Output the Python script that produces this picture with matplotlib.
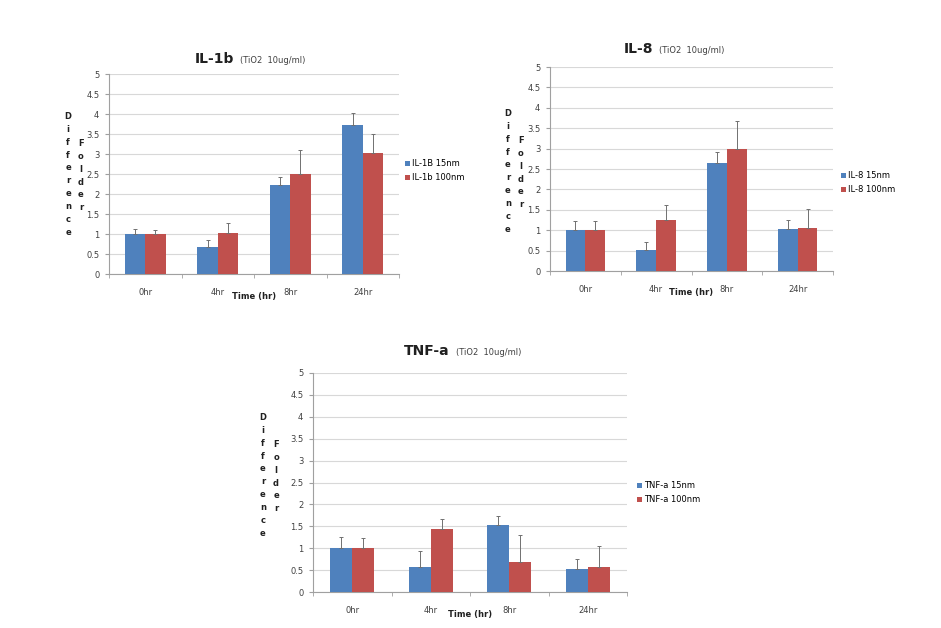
import numpy as np
import matplotlib
matplotlib.use("Agg")
import matplotlib.pyplot as plt

# data
times = ["0hr", "4hr", "8hr", "24hr"]

il1b_15 = [1.0, 0.67, 2.22, 3.72]
il1b_15_err = [0.13, 0.18, 0.20, 0.31]
il1b_100 = [1.0, 1.03, 2.50, 3.03]
il1b_100_err = [0.10, 0.25, 0.60, 0.47]

il8_15 = [1.0, 0.52, 2.65, 1.03]
il8_15_err = [0.22, 0.20, 0.27, 0.22]
il8_100 = [1.0, 1.25, 3.00, 1.06]
il8_100_err = [0.22, 0.37, 0.67, 0.46]

tnf_15 = [1.0, 0.56, 1.54, 0.52]
tnf_15_err = [0.26, 0.38, 0.20, 0.24]
tnf_100 = [1.0, 1.44, 0.68, 0.57]
tnf_100_err = [0.24, 0.22, 0.63, 0.48]

W, H = 941, 628
BLUE = "#4F81BD"
RED = "#C0504D"
TXT = "#404040"

plt.rcParams['font.family'] = ['DejaVu Sans']

fig = plt.figure(figsize=(W / 100, H / 100), dpi=100)


def fx(x):
    return x / W


def fy(y):
    return 1 - y / H


def panel(left, right, top5, bot0, s1, e1, s2, e2, labels, title, sub,
          title_x, title_y, ylab_x, ylab_y, leg_x, leg_y):
    ax = fig.add_axes([fx(left), fy(bot0), fx(right - left), (bot0 - top5) / H])
    x = np.arange(len(times))
    w = 0.28
    ax.bar(x - w / 2, s1, w, color=BLUE, label=labels[0], zorder=3)
    ax.bar(x + w / 2, s2, w, color=RED, label=labels[1], zorder=3)
    ax.errorbar(x - w / 2, s1, yerr=[np.zeros(4), e1], fmt="none",
                ecolor="#707070", elinewidth=0.7, capsize=1.5, capthick=0.7, zorder=4)
    ax.errorbar(x + w / 2, s2, yerr=[np.zeros(4), e2], fmt="none",
                ecolor="#707070", elinewidth=0.7, capsize=1.5, capthick=0.7, zorder=4)
    ax.set_xlim(-0.5, 3.5)
    ax.set_ylim(0, 5)
    ax.set_yticks(np.arange(0, 5.01, 0.5))
    ax.set_yticklabels(["0", "0.5", "1", "1.5", "2", "2.5", "3", "3.5", "4", "4.5", "5"])
    ax.set_xticks(x)
    ax.set_xticklabels(times)
    ax.set_xticks([-0.5, 0.5, 1.5, 2.5, 3.5], minor=True)
    ax.tick_params(axis="x", which="major", length=0, labelsize=6, colors=TXT, pad=10)
    ax.tick_params(axis="x", which="minor", length=3, color="#a0a0a0")
    ax.tick_params(axis="y", length=3, color="#a0a0a0", labelsize=6, colors=TXT, pad=4)
    ax.yaxis.grid(True, color="#d8d8d8", linewidth=0.8, zorder=0)
    for sp in ["top", "right"]:
        ax.spines[sp].set_visible(False)
    for sp in ["left", "bottom"]:
        ax.spines[sp].set_color("#a0a0a0")
        ax.spines[sp].set_linewidth(0.8)

    # title: bold name + small condition
    fig.text(fx(title_x), fy(title_y), title, fontsize=10, fontweight="bold",
             ha="right", va="baseline", color="#202020")
    fig.text(fx(title_x + 6), fy(title_y), sub, fontsize=6, ha="left",
             va="baseline", color=TXT)

    # stacked y label letters
    fig.text(fx(ylab_x), fy(ylab_y), "\n".join("Difference"), fontsize=6,
             fontweight="bold", ha="center", va="top", linespacing=1.55, color="#202020")
    fig.text(fx(ylab_x + 13), fy(ylab_y + 27), "\n".join("Folder"), fontsize=6,
             fontweight="bold", ha="center", va="top", linespacing=1.55, color="#202020")

    fig.text(fx((left + right) / 2), fy(bot0 + 22), "Time (hr)", fontsize=6,
             fontweight="bold", ha="center", va="center", color="#202020")

    ax.legend(loc="center left", bbox_to_anchor=(fx(leg_x), fy(leg_y)),
              bbox_transform=fig.transFigure, frameon=False, fontsize=6,
              handlelength=0.6, handleheight=0.6, handletextpad=0.3,
              labelspacing=0.6, borderaxespad=0, borderpad=0)
    return ax


panel(109, 399, 74, 274, il1b_15, il1b_15_err, il1b_100, il1b_100_err,
      ["IL-1B 15nm", "IL-1b 100nm"], "IL-1b", "(TiO2  10ug/ml)",
      234, 63, 68, 112, 405, 171)

panel(550, 833, 67, 271, il8_15, il8_15_err, il8_100, il8_100_err,
      ["IL-8 15nm", "IL-8 100nm"], "IL-8", "(TiO2  10ug/ml)",
      653, 53, 508, 109, 841, 183)

panel(313, 627, 373, 592, tnf_15, tnf_15_err, tnf_100, tnf_100_err,
      ["TNF-a 15nm", "TNF-a 100nm"], "TNF-a", "(TiO2  10ug/ml)",
      450, 355, 263, 413, 637, 493)

fig.savefig("out.png", dpi=100)
